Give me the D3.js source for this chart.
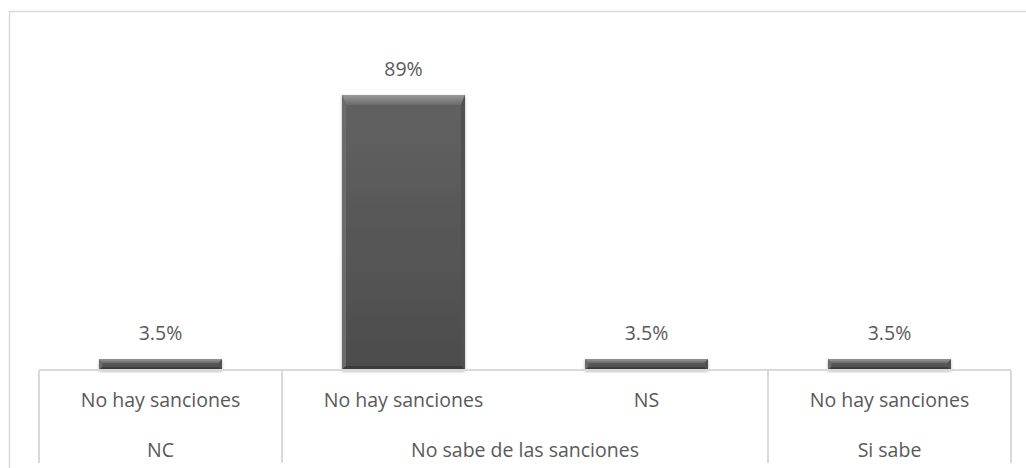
<!DOCTYPE html>
<html>
<head>
<meta charset="utf-8">
<script src="https://cdn.jsdelivr.net/npm/d3@7"></script>
<style>
  html, body { margin: 0; padding: 0; background: #ffffff; }
  svg { display: block; }
  text { font-family: "Open Sans", "Liberation Sans", sans-serif; fill: #595959; }
</style>
</head>
<body>
<svg id="chart" width="1026" height="468"></svg>
<script>
// Category labels (inner level) and their parent groups
const answers = ["No hay sanciones", "No hay sanciones", "NS", "No hay sanciones"];
const groups = ["NC", "No sabe de las sanciones", "No sabe de las sanciones", "Si sabe"];
// Share of respondents for each category
const shares = [0.035, 0.89, 0.035, 0.035];
const shareLabels = ["3.5%", "89%", "3.5%", "3.5%"];

const svg = d3.select("#chart");
const W = 1026, H = 468;
const plot = { left: 39, right: 1011, top: 61, bottom: 370 };
const FONT = 19.5;

// Chart area border (opens off the right and bottom edges)
svg.append("path")
  .attr("d", `M9.5,${H + 2} V11.5 H${W + 2}`)
  .attr("fill", "none")
  .attr("stroke", "#d9d9d9")
  .attr("stroke-width", 1.5);

const idx = d3.range(shares.length);
const x = d3.scaleBand()
  .domain(idx)
  .range([plot.left, plot.right])
  .paddingInner(0.494)
  .paddingOuter(0.247);
const step = x.step();

const y = d3.scaleLinear().domain([0, 1]).range([plot.bottom, plot.top]);

// Gradients and shadow for the bevelled bars
const defs = svg.append("defs");
const body = defs.append("linearGradient").attr("id", "barBody")
  .attr("x1", 0).attr("y1", 0).attr("x2", 0).attr("y2", 1);
body.append("stop").attr("offset", "0%").attr("stop-color", "#626262");
body.append("stop").attr("offset", "100%").attr("stop-color", "#4c4c4c");

const topBevel = defs.append("linearGradient").attr("id", "barTop")
  .attr("x1", 0).attr("y1", 0).attr("x2", 0).attr("y2", 1);
topBevel.append("stop").attr("offset", "0%").attr("stop-color", "#9a9a9a");
topBevel.append("stop").attr("offset", "100%").attr("stop-color", "#6a6a6a");

const shadow = defs.append("filter").attr("id", "barShadow")
  .attr("x", "-10%").attr("y", "-10%").attr("width", "120%").attr("height", "130%");
shadow.append("feDropShadow")
  .attr("dx", 0).attr("dy", 1.5).attr("stdDeviation", 1.6)
  .attr("flood-color", "#000").attr("flood-opacity", 0.3);

const bars = svg.append("g").selectAll("g.bar")
  .data(idx)
  .join("g")
  .attr("class", "bar");

bars.each(function (i) {
  const g = d3.select(this);
  const x0 = x(i), x1 = x(i) + x.bandwidth();
  const y0 = y(shares[i]), y1 = y(0);
  const h = y1 - y0;
  const bt = Math.min(10, h * 0.35);   // top bevel depth
  const bs = Math.min(4, h * 0.3);     // side bevel depth
  const bb = Math.min(4, h * 0.25);    // bottom bevel depth

  g.append("rect")
    .attr("x", x0).attr("y", y0)
    .attr("width", x1 - x0).attr("height", h)
    .attr("fill", "url(#barBody)")
    .attr("filter", "url(#barShadow)");

  // top face
  g.append("polygon")
    .attr("points", [[x0, y0], [x1, y0], [x1 - bs, y0 + bt], [x0 + bs, y0 + bt]].join(" "))
    .attr("fill", "url(#barTop)");
  // left face
  g.append("polygon")
    .attr("points", [[x0, y0], [x0 + bs, y0 + bt], [x0 + bs, y1 - bb], [x0, y1]].join(" "))
    .attr("fill", "#6c6c6c");
  // right face
  g.append("polygon")
    .attr("points", [[x1, y0], [x1 - bs, y0 + bt], [x1 - bs, y1 - bb], [x1, y1]].join(" "))
    .attr("fill", "#515151");
  // bottom face
  g.append("polygon")
    .attr("points", [[x0, y1], [x0 + bs, y1 - bb], [x1 - bs, y1 - bb], [x1, y1]].join(" "))
    .attr("fill", "#3a3a3a");
});

// Value labels above each bar
svg.append("g").selectAll("text.value")
  .data(idx)
  .join("text")
  .attr("class", "value")
  .attr("x", i => x(i) + x.bandwidth() / 2)
  .attr("y", i => y(shares[i]) - 24)
  .attr("text-anchor", "middle")
  .attr("dominant-baseline", "middle")
  .attr("font-size", FONT)
  .text(i => shareLabels[i]);

// Category axis: baseline and multi-level separators
const axis = svg.append("g");
axis.append("line")
  .attr("x1", plot.left).attr("x2", plot.right)
  .attr("y1", plot.bottom).attr("y2", plot.bottom)
  .attr("stroke", "#d9d9d9").attr("stroke-width", 2);

// group spans
const spans = [];
groups.forEach((gname, i) => {
  const last = spans[spans.length - 1];
  if (last && last.name === gname) last.end = i;
  else spans.push({ name: gname, start: i, end: i });
});

const bounds = [plot.left].concat(spans.map(s => x(s.end) - x.paddingInner() * step / 2 + step));
axis.selectAll("line.sep")
  .data(bounds)
  .join("line")
  .attr("class", "sep")
  .attr("x1", d => Math.round(d)).attr("x2", d => Math.round(d))
  .attr("y1", plot.bottom).attr("y2", 463)
  .attr("stroke", "#d9d9d9").attr("stroke-width", 2);

axis.selectAll("text.answer")
  .data(idx)
  .join("text")
  .attr("class", "answer")
  .attr("x", i => x(i) + x.bandwidth() / 2)
  .attr("y", 402)
  .attr("text-anchor", "middle")
  .attr("dominant-baseline", "middle")
  .attr("font-size", FONT)
  .text(i => answers[i]);

axis.selectAll("text.group")
  .data(spans)
  .join("text")
  .attr("class", "group")
  .attr("x", s => (x(s.start) + x(s.end) + x.bandwidth()) / 2)
  .attr("y", 452)
  .attr("text-anchor", "middle")
  .attr("dominant-baseline", "middle")
  .attr("font-size", FONT)
  .text(s => s.name);
</script>
</body>
</html>
